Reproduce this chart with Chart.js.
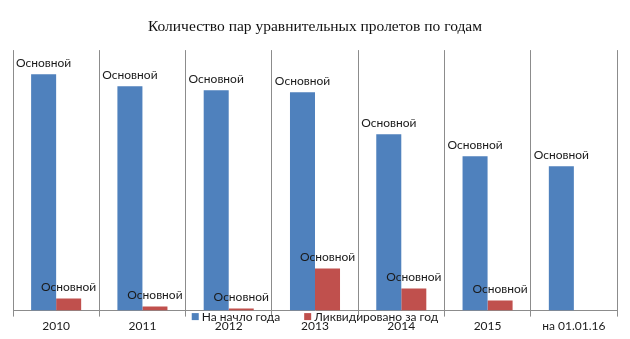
<!DOCTYPE html>
<html>
<head>
<meta charset="utf-8">
<script src="https://cdn.jsdelivr.net/npm/chart.js@4"></script>
<style>
  html, body { margin: 0; padding: 0; background: #fff; }
  #wrap { width: 630px; height: 339px; }
</style>
</head>
<body>
<div id="wrap"><canvas id="chart"></canvas></div>
<script>
// Pairs of equalizing spans by year
const categories = ['2010', '2011', '2012', '2013', '2014', '2015', 'на 01.01.16'];
const atYearStart = [118, 112, 110, 109, 88, 77, 72];
const liquidated = [6, 2, 1, 21, 11, 5, 0];
const seriesNames = ['На начло года', 'Ликвидировано за год'];
const barLabelText = 'Основной';

const BLUE = '#4F81BD';
const RED = '#C0504D';
const GRID = '#8c8c8c';
const LABEL_FONT = '12px Lato, "Open Sans", sans-serif';

// Text label above every non-zero bar
const barLabels = {
  id: 'barLabels',
  afterDatasetsDraw(chart) {
    const ctx = chart.ctx;
    ctx.save();
    ctx.font = LABEL_FONT;
    ctx.fillStyle = '#1a1a1a';
    ctx.textAlign = 'center';
    ctx.textBaseline = 'middle';
    chart.data.datasets.forEach((ds, i) => {
      const meta = chart.getDatasetMeta(i);
      meta.data.forEach((bar, j) => {
        if (!ds.data[j]) return;
        ctx.fillText(barLabelText, bar.x, bar.y - 11);
      });
    });
    ctx.restore();
  }
};

// Legend sitting on top of the axis labels
const overlayLegend = {
  id: 'overlayLegend',
  afterDraw(chart) {
    const ctx = chart.ctx;
    const box = 7, gap = 3, spacing = 24;
    const y = chart.chartArea.bottom + 6;
    ctx.save();
    ctx.font = LABEL_FONT;
    ctx.textBaseline = 'middle';
    const items = chart.data.datasets.map(ds => ({
      text: ds.label,
      color: ds.backgroundColor,
      w: box + gap + ctx.measureText(ds.label).width
    }));
    const total = items.reduce((s, it) => s + it.w, 0) + spacing * (items.length - 1);
    let x = (chart.chartArea.left + chart.chartArea.right) / 2 - total / 2;
    items.forEach(it => {
      ctx.fillStyle = it.color;
      ctx.fillRect(x, y - box / 2, box, box);
      ctx.fillStyle = '#1a1a1a';
      ctx.fillText(it.text, x + box + gap, y + 1);
      x += it.w + spacing;
    });
    ctx.restore();
  }
};

new Chart(document.getElementById('chart'), {
  type: 'bar',
  data: {
    labels: categories,
    datasets: [
      { label: seriesNames[0], data: atYearStart, backgroundColor: BLUE },
      { label: seriesNames[1], data: liquidated, backgroundColor: RED }
    ]
  },
  options: {
    responsive: true,
    maintainAspectRatio: false,
    animation: false,
    datasets: {
      bar: { categoryPercentage: 0.58, barPercentage: 1.0 }
    },
    layout: {
      padding: { left: 13, right: 13, top: 0, bottom: 4 }
    },
    plugins: {
      legend: { display: false },
      tooltip: { enabled: false },
      title: {
        display: true,
        text: 'Количество пар уравнительных пролетов по годам',
        color: '#111',
        font: { family: '"Liberation Serif", serif', size: 15.5, weight: 'normal' },
        padding: { top: 17.5, bottom: 14 }
      }
    },
    scales: {
      x: {
        grid: {
          display: true,
          offset: true,
          color: GRID,
          lineWidth: 1,
          tickLength: 6
        },
        border: { display: true, color: GRID, width: 1 },
        ticks: {
          color: '#1a1a1a',
          font: { family: 'Lato, "Open Sans", sans-serif', size: 12 },
          padding: 2,
          maxRotation: 0
        }
      },
      y: {
        display: false,
        min: 0,
        max: 130
      }
    }
  },
  plugins: [barLabels, overlayLegend]
});
</script>
</body>
</html>
